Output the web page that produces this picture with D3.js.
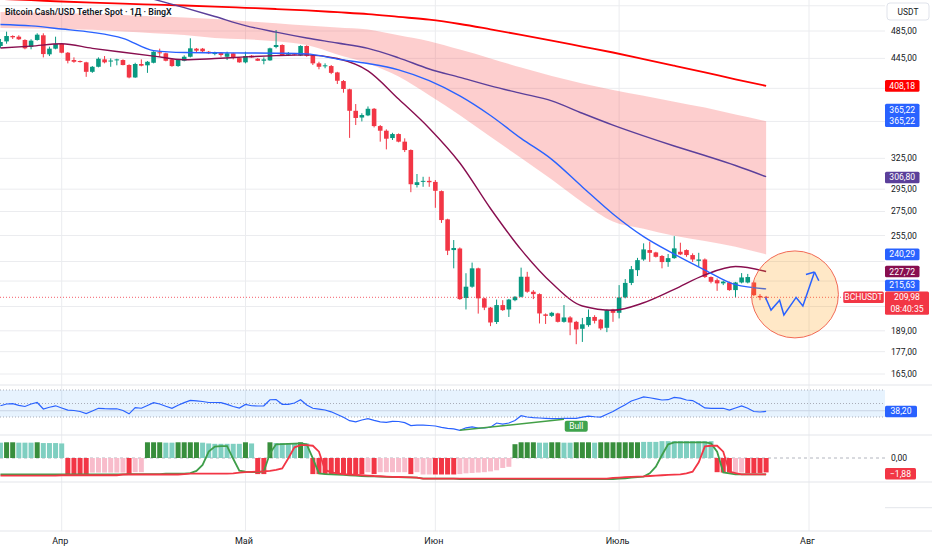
<!DOCTYPE html>
<html>
<head>
<meta charset="utf-8">
<script src="https://cdn.jsdelivr.net/npm/d3@7"></script>
<style>
    html, body { margin: 0; padding: 0; background: #fff; }
    svg { display: block; font-family: Roboto, 'Noto Sans', sans-serif; }
</style>
</head>
<body>
<div id="chart"></div>
<script>
// Daily candles, first one on 22 March
const firstDay = Date.UTC(2025, 2, 22)
const monthStarts = ['2025-04-01', '2025-05-01', '2025-06-01', '2025-07-01', '2025-08-01']
const monthLabels = ['Апр', 'Май', 'Июн', 'Июль', 'Авг']
const priceTicks = [525, 485, 445, 405, 365, 325, 295, 275, 255, 235, 221, 204, 189, 177, 165]

const opens = [
    462.7, 469.4, 477.4, 476.4, 471.5, 461.2, 471.5, 478.5, 450.7, 458.8,
    465.6, 453.0, 442.7, 441.3, 439.5, 426.6, 433.4, 443.6, 441.3, 442.7,
    442.7, 435.8, 419.1, 437.2, 435.4, 438.9, 453.6, 452.2, 443.6, 434.4,
    441.7, 447.3, 458.8, 458.8, 454.4, 451.1, 453.0, 447.3, 452.2, 445.4,
    439.5, 448.8, 444.5, 441.7, 442.2, 461.2, 464.1, 450.2, 452.2, 449.0,
    462.7, 448.8, 438.1, 434.4, 434.4, 425.8, 414.4, 403.8, 377.4, 369.5,
    372.0, 379.8, 359.7, 354.5, 346.4, 350.8, 342.5, 333.6, 298.9, 302.2,
    302.8, 301.8, 293.2, 268.3, 243.6, 244.8, 209.5, 217.1, 230.0, 209.3,
    203.3, 194.3, 204.9, 202.1, 208.1, 210.3, 224.0, 213.7, 212.1, 199.0,
    198.1, 199.6, 194.4, 197.1, 194.4, 190.2, 192.4, 197.4, 195.8, 190.8,
    202.1, 200.0, 209.9, 219.7, 228.7, 236.5, 243.6, 241.8, 239.1, 234.6,
    237.5, 242.3, 243.6, 239.8, 235.5, 236.5, 223.8, 221.6, 219.4, 220.0,
    214.8, 220.0, 220.0, 220.0, 210.9, 210.3
]
const highs = [
    473.0, 484.0, 478.5, 478.5, 472.5, 472.5, 481.5, 481.5, 461.7, 476.4,
    466.6, 454.0, 446.4, 442.0, 440.3, 434.4, 446.4, 448.3, 445.0, 444.5,
    443.6, 436.8, 438.9, 443.6, 441.3, 455.0, 458.8, 453.0, 444.5, 443.6,
    449.3, 474.0, 459.8, 459.8, 455.5, 454.4, 454.0, 454.4, 453.0, 446.4,
    454.4, 449.7, 445.4, 446.4, 460.2, 486.5, 465.1, 454.0, 452.6, 463.7,
    463.7, 449.3, 440.3, 438.1, 435.8, 426.6, 415.7, 404.5, 385.5, 374.5,
    382.6, 380.7, 360.9, 356.0, 352.2, 351.5, 346.1, 334.3, 309.4, 306.7,
    306.7, 303.6, 293.8, 268.8, 251.4, 245.6, 226.5, 234.2, 230.5, 209.7,
    203.7, 208.5, 208.1, 208.9, 210.8, 230.5, 227.5, 214.8, 212.6, 199.6,
    200.6, 200.0, 204.9, 197.9, 195.0, 196.8, 202.1, 198.5, 196.2, 202.1,
    202.5, 218.2, 222.4, 231.7, 237.7, 248.8, 250.1, 242.3, 239.8, 240.6,
    254.5, 249.3, 244.1, 241.1, 241.5, 237.3, 224.2, 222.8, 221.3, 220.6,
    220.4, 226.6, 226.0, 220.6, 212.1, 210.9
]
const lows = [
    459.8, 466.0, 473.0, 471.5, 457.9, 457.9, 470.5, 446.4, 448.3, 457.9,
    452.2, 438.1, 438.9, 439.2, 419.9, 425.2, 432.6, 438.1, 433.4, 435.4,
    435.4, 418.0, 418.6, 434.0, 425.2, 438.1, 447.3, 440.9, 433.4, 433.4,
    440.9, 446.4, 454.0, 454.0, 451.1, 449.3, 447.3, 442.7, 443.6, 438.9,
    438.1, 445.9, 441.3, 436.8, 441.7, 459.3, 448.3, 448.3, 449.3, 448.3,
    447.3, 435.8, 430.0, 431.4, 423.5, 410.6, 399.5, 346.6, 360.9, 365.0,
    371.1, 358.2, 342.5, 334.3, 344.3, 341.8, 331.5, 292.2, 296.6, 297.2,
    297.2, 278.2, 265.3, 239.8, 230.0, 208.3, 202.1, 216.4, 199.5, 201.7,
    191.8, 193.1, 201.2, 197.4, 207.4, 209.9, 213.0, 208.8, 193.4, 193.1,
    197.4, 194.0, 193.9, 186.4, 181.2, 182.5, 191.4, 193.4, 189.4, 188.2,
    194.4, 196.5, 209.3, 218.2, 224.5, 235.5, 234.7, 238.0, 230.0, 231.1,
    237.0, 239.8, 238.5, 234.7, 231.1, 223.1, 219.4, 214.3, 218.2, 214.3,
    210.0, 219.4, 219.4, 210.8, 208.1, 208.1
]
const closes = [
    468.5, 477.4, 475.5, 472.5, 459.3, 470.5, 479.4, 451.1, 458.8, 465.6,
    453.0, 441.7, 440.3, 439.9, 426.6, 433.4, 444.5, 439.5, 442.0, 443.6,
    435.8, 419.1, 437.2, 434.9, 440.3, 454.4, 452.2, 441.7, 434.4, 442.7,
    447.3, 459.3, 455.9, 455.0, 452.2, 453.6, 449.7, 452.2, 446.4, 439.5,
    448.3, 446.4, 441.7, 443.6, 459.3, 464.1, 449.3, 452.2, 450.2, 462.7,
    448.5, 438.1, 433.4, 435.4, 425.2, 414.8, 404.2, 377.4, 369.0, 372.4,
    379.8, 359.7, 354.5, 345.7, 350.8, 342.5, 333.6, 299.6, 301.5, 302.8,
    301.5, 293.5, 267.7, 243.1, 245.2, 208.8, 217.1, 230.0, 209.3, 203.3,
    194.0, 204.9, 201.7, 208.5, 210.3, 224.0, 213.7, 212.1, 199.6, 198.1,
    200.0, 194.4, 197.1, 194.0, 189.8, 192.9, 197.4, 195.0, 190.4, 201.7,
    200.0, 209.9, 219.7, 229.4, 236.0, 244.1, 241.5, 238.5, 234.6, 237.5,
    244.9, 240.3, 239.8, 236.5, 236.5, 223.8, 220.5, 219.4, 220.6, 214.8,
    220.0, 223.5, 223.8, 211.4, 209.9, 209.98
]

// Moving averages and the band, read every 5th candle
const maDays = [0, 5, 10, 15, 20, 25, 30, 35, 40, 45, 50, 55, 60, 65, 70, 75, 80, 85, 90, 95, 100, 105, 110, 115, 120, 125]
const redMa = [536.4, 534.3, 532.1, 530.2, 528.5, 527.0, 525.5, 523.7, 521.7, 519.7, 517.4, 514.5, 511.5, 507.0, 502.5, 495.8, 487.6, 479.2, 470.7, 461.9, 453.3, 444.1, 434.9, 425.8, 416.7, 408.18]
const purpleMa = [614.0, 596.9, 582.0, 565.8, 550.9, 536.0, 522.0, 507.6, 493.3, 483.2, 474.4, 467.0, 459.2, 445.8, 430.4, 419.2, 408.2, 398.7, 389.4, 374.5, 360.8, 348.8, 337.9, 327.9, 317.8, 306.80]
const bandUpper = [514.9, 513.9, 512.9, 512.0, 510.2, 508.1, 506.2, 503.7, 500.2, 496.9, 493.4, 490.5, 487.4, 478.5, 469.8, 457.5, 445.0, 432.3, 421.1, 411.3, 403.0, 395.7, 388.4, 381.2, 372.9, 365.22]
const bandLower = [489.6, 488.7, 487.8, 486.8, 484.4, 481.7, 478.9, 474.6, 472.7, 469.5, 464.0, 450.6, 438.0, 420.3, 396.3, 372.1, 347.7, 325.3, 304.1, 283.2, 266.5, 260.5, 254.8, 250.6, 246.2, 240.29]
const blueMa = [495.0, 492.8, 488.1, 482.9, 474.0, 456.0, 453.2, 452.9, 452.6, 452.3, 451.4, 444.0, 437.9, 429.3, 414.9, 395.5, 371.9, 346.1, 324.0, 297.1, 272.9, 254.1, 240.5, 228.8, 218.5, 215.63]
const maroonMa = [459.8, 462.5, 465.9, 459.3, 453.6, 448.2, 443.1, 444.8, 447.1, 448.9, 449.9, 444.8, 427.9, 391.6, 357.3, 320.3, 277.6, 243.9, 219.6, 204.3, 201.6, 206.4, 215.3, 225.3, 231.3, 227.72]

// RSI, one value per candle
const rsi = [
    46.7, 49.3, 49.9, 47.3, 45.6, 49.3, 51.5, 41.9, 44.4, 46.6,
    43.3, 40.2, 39.6, 38.1, 35.0, 38.9, 42.9, 42.3, 41.9, 42.2,
    39.6, 34.7, 43.8, 43.0, 47.0, 51.2, 49.3, 45.9, 42.9, 47.5,
    51.3, 54.7, 54.0, 53.0, 51.5, 51.5, 51.3, 48.8, 45.6, 43.3,
    48.7, 46.7, 46.3, 46.6, 55.6, 55.9, 48.8, 48.8, 50.7, 55.5,
    47.8, 42.9, 41.6, 40.4, 37.7, 33.7, 29.7, 24.5, 22.9, 25.6,
    27.5, 25.0, 22.9, 22.1, 23.6, 23.3, 21.7, 17.3, 17.9, 17.9,
    17.4, 16.7, 14.7, 13.1, 12.5, 10.3, 14.0, 15.3, 13.7, 13.7,
    14.9, 21.1, 19.6, 21.1, 24.8, 31.9, 30.0, 29.1, 28.5, 27.9,
    27.5, 27.6, 28.1, 28.1, 28.1, 29.7, 31.3, 30.4, 29.9, 34.0,
    38.1, 43.3, 48.2, 53.7, 56.7, 59.9, 58.5, 56.8, 55.2, 55.6,
    59.0, 57.9, 55.2, 54.4, 49.3, 43.5, 42.9, 42.9, 42.9, 40.1,
    43.3, 46.3, 42.9, 38.1, 37.4, 38.2
]
const rsiLevels = [70, 50, 30]
const rsiBase = 39.3
const rsiDivergence = [[75, 10.3], [92, 26.6]]
const bullLabelDay = 94

// Momentum histogram and its two lines
const histValues = [
    2.0, 2.05, 2.05, 2.0, 2.0, 2.0, 2.05, 1.95, 1.95, 1.95,
    1.9, -2.1, -2.1, -2.1, -2.1, -1.9, -1.9, -1.9, -1.9, -1.9,
    -1.9, -2.1, -1.85, -1.85, 2.05, 2.05, 2.05, 2.0, 2.0, 2.05,
    2.05, 2.05, 2.05, 2.0, 1.9, 1.85, 1.85, 1.85, 1.85, 1.85,
    2.05, 1.9, -2.1, -2.1, 2.05, 1.95, 1.95, 1.95, 1.95, 2.05,
    1.9, -2.1, -2.1, -2.1, -2.1, -2.1, -2.1, -2.1, -2.1, -2.1,
    -1.85, -2.1, -1.85, -1.85, -1.85, -1.85, -1.85, -2.1, -1.85, -2.15,
    -2.15, -2.15, -2.15, -2.15, -2.15, -2.1, -2.0, -1.95, -1.9, -1.85,
    -1.75, -1.6, -1.3, -1.15, 1.8, 2.05, 2.05, 2.05, 2.0, 2.0,
    2.05, 2.05, 2.0, 2.0, 2.05, 2.05, 2.05, 2.0, 2.05, 2.05,
    2.05, 2.05, 2.05, 2.05, 2.05, 2.1, 2.1, 2.1, 2.2, 2.2,
    2.2, 2.2, 2.2, 2.2, 2.2, 2.2, 2.2, -1.85, -1.9, -1.9,
    -1.9, -1.9, -2.0, -2.0, -1.95, -1.88
]
const histStrong = [
    0, 1, 1, 0, 0, 0, 1, 0, 0, 0,
    0, 1, 1, 1, 1, 0, 0, 0, 0, 0,
    0, 1, 0, 0, 1, 1, 1, 0, 0, 1,
    1, 1, 1, 0, 0, 0, 0, 0, 0, 0,
    1, 0, 1, 1, 1, 0, 0, 0, 0, 1,
    0, 1, 1, 1, 1, 1, 1, 1, 1, 1,
    0, 1, 0, 0, 0, 0, 0, 1, 0, 0,
    0, 1, 1, 1, 1, 0, 0, 0, 0, 0,
    0, 0, 0, 0, 1, 1, 1, 1, 0, 0,
    1, 1, 0, 0, 1, 1, 1, 0, 1, 1,
    1, 1, 1, 1, 1, 0, 0, 0, 0, 0,
    0, 0, 0, 0, 0, 0, 0, 1, 1, 1,
    0, 0, 1, 1, 1, 1
]
const greenLine = [
    -2.13, -2.13, -2.13, -2.13, -2.13, -2.13, -2.13, -2.13, -2.13, -2.13,
    -2.13, -2.13, -2.13, -2.13, -2.13, -2.13, -2.13, -2.13, -2.13, -2.13,
    -2.13, -2.1, -2.1, -2.1, -2.1, -2.1, -2.1, -2.05, -2.05, -2.05,
    -2.05, -1.96, -1.69, -0.91, 0.83, 1.48, 1.56, 1.56, -0.1, -1.65,
    -1.78, -1.83, -1.83, -1.75, 0.61, 1.78, 1.8, 1.83, 1.87, 1.91,
    1.78, -0.04, -2.0, -2.1, -2.13, -2.15, -2.2, -2.25, -2.3, -2.35,
    -2.38, -2.4, -2.43, -2.46, -2.48, -2.5, -2.52, -2.54, -2.56, -2.7,
    -2.7, -2.7, -2.7, -2.7, -2.7, -2.74, -2.74, -2.74, -2.74, -2.74,
    -2.74, -2.74, -2.74, -2.74, -2.74, -2.74, -2.74, -2.74, -2.74, -2.74,
    -2.74, -2.74, -2.74, -2.74, -2.74, -2.74, -2.74, -2.74, -2.74, -2.74,
    -2.74, -2.7, -2.65, -2.56, -2.5, -2.43, -2.0, -1.13, 0.39, 1.78,
    2.05, 2.05, 2.05, 2.05, 2.05, 2.05, 1.91, 0.83, -1.87, -2.0,
    -2.13, -2.13, -2.13, -2.13, -2.13, -2.13
]
const redLine = [
    -2.3, -2.3, -2.3, -2.3, -2.3, -2.3, -2.3, -2.3, -2.3, -2.3,
    -2.25, -2.25, -2.25, -2.25, -2.25, -2.25, -2.25, -2.25, -2.25, -2.25,
    -2.15, -2.15, -2.15, -2.15, -2.15, -2.15, -2.15, -2.15, -2.15, -2.15,
    -2.1, -2.05, -2.05, -2.05, -2.05, -2.05, -2.05, -2.05, -2.0, -1.9,
    -1.85, -1.8, -1.78, -1.75, -1.69, -1.56, -1.35, -0.04, 1.39, 1.69,
    1.69, 1.6, 0.83, -1.56, -1.87, -2.0, -2.1, -2.15, -2.2, -2.25,
    -2.3, -2.35, -2.38, -2.42, -2.45, -2.48, -2.5, -2.53, -2.56, -2.68,
    -2.7, -2.7, -2.7, -2.7, -2.7, -2.7, -2.7, -2.7, -2.7, -2.7,
    -2.7, -2.7, -2.7, -2.7, -2.7, -2.7, -2.7, -2.7, -2.7, -2.7,
    -2.7, -2.7, -2.7, -2.7, -2.7, -2.7, -2.7, -2.7, -2.7, -2.7,
    -2.6, -2.55, -2.5, -2.47, -2.43, -2.4, -2.35, -2.3, -2.25, -2.2,
    -2.17, -2.13, -2.0, -1.78, -0.56, 1.52, 1.6, 1.6, 0.83, -1.78,
    -1.96, -2.13, -2.13, -2.13, -2.13, -2.13
]

// Hand-drawn forecast: [day, price]
const forecastPath = [[124.9, 209.9], [125.8, 201.7], [127.2, 208.1], [127.9, 198.6], [129.9, 209.9], [131.0, 204.3], [132.9, 227.4]]
const arrowWings = [[131.5, 225.6], [133.6, 221.2]]
const circleCenter = [129.7, 211.9]
const circleRadiusDays = 7.1

// ---- layout ----
const width = 932, height = 550
const plotRight = 885
const mainBottom = 385, rsiBottom = 435, histBottom = 482, axisTop = 531

const svg = d3.select('#chart').append('svg')
    .attr('width', width).attr('height', height)

const x = d3.scaleUtc()
    .domain([new Date(Date.UTC(2025, 3, 1)), new Date(Date.UTC(2025, 7, 1))])
    .range([61.7, 809])
const dayX = i => x(new Date(firstDay + i * 864e5))
const y = d3.scaleLog().domain([165, 485]).range([374, 31])
const yRsi = d3.scaleLinear().domain([30, 70]).range([417, 390])
const yHist = d3.scaleLinear().domain([-3, 3]).range([481, 435])
const fmt = v => d3.format('.2f')(v).replace('.', ',')
const parseDay = d3.utcParse('%Y-%m-%d')
const last = a => a[a.length - 1]
const lastClose = last(closes)
const up = '#089981', down = '#f23645'

const defs = svg.append('defs')
function clip(id, y0, y1) {
    defs.append('clipPath').attr('id', id)
        .append('rect').attr('x', 0).attr('y', y0).attr('width', plotRight).attr('height', y1 - y0)
}
clip('clip-main', 0, mainBottom)
clip('clip-rsi', mainBottom, rsiBottom)
clip('clip-hist', rsiBottom, histBottom)

const grid = '#ebecef'

// Grid lines
svg.selectAll('.hgrid')
    .data(priceTicks).enter()
    .append('line')
    .attr('x1', 0).attr('x2', plotRight)
    .attr('y1', d => y(d)).attr('y2', d => y(d))
    .attr('stroke', grid)

svg.selectAll('.vgrid')
    .data(monthStarts).enter()
    .append('line')
    .attr('x1', d => x(parseDay(d))).attr('x2', d => x(parseDay(d)))
    .attr('y1', 0).attr('y2', axisTop)
    .attr('stroke', grid)

// Pane separators
;[mainBottom, rsiBottom, histBottom, axisTop].forEach(s => {
    svg.append('line').attr('x1', 0).attr('x2', width).attr('y1', s).attr('y2', s).attr('stroke', '#e3e5ea')
})
svg.append('line').attr('x1', plotRight).attr('x2', width).attr('y1', 507.7).attr('y2', 507.7).attr('stroke', '#e3e5ea')

// Main pane
const main = svg.append('g').attr('clip-path', 'url(#clip-main)')
const maPts = arr => arr.map((v, k) => ({ d: maDays[k], v }))

const band = d3.area()
    .x(d => dayX(d.d))
    .y0(d => y(d.lo)).y1(d => y(d.hi))
    .curve(d3.curveMonotoneX)
main.append('path')
    .datum(maDays.map((d, k) => ({ d, lo: bandLower[k], hi: bandUpper[k] })))
    .attr('d', band)
    .attr('fill', 'rgba(248, 80, 80, 0.28)')

// Candles
const bodyW = 4.6
const candles = closes.map((c, i) => ({ i, o: opens[i], h: highs[i], l: lows[i], c }))
main.selectAll('.wick')
    .data(candles).enter()
    .append('line')
    .attr('x1', d => dayX(d.i)).attr('x2', d => dayX(d.i))
    .attr('y1', d => y(d.h)).attr('y2', d => y(d.l))
    .attr('stroke', d => d.c >= d.o ? up : down)
    .attr('stroke-width', 1)
main.selectAll('.body')
    .data(candles).enter()
    .append('rect')
    .attr('x', d => dayX(d.i) - bodyW / 2)
    .attr('y', d => y(Math.max(d.o, d.c)))
    .attr('width', bodyW)
    .attr('height', d => Math.max(1, Math.abs(y(d.o) - y(d.c))))
    .attr('fill', d => d.c >= d.o ? up : down)

// Moving averages
const maLine = d3.line().x(d => dayX(d.d)).y(d => y(d.v)).curve(d3.curveMonotoneX)
const lines = [
    { data: redMa, color: '#ff0000', w: 1.8 },
    { data: purpleMa, color: '#5b3f9a', w: 1.4 },
    { data: maroonMa, color: '#880e4f', w: 1.4 },
    { data: blueMa, color: '#2962ff', w: 1.4 }
]
lines.forEach(l => {
    main.append('path')
        .datum(maPts(l.data))
        .attr('d', maLine)
        .attr('fill', 'none')
        .attr('stroke', l.color)
        .attr('stroke-width', l.w)
})

// Last price line
main.append('line')
    .attr('x1', 0).attr('x2', plotRight)
    .attr('y1', y(lastClose)).attr('y2', y(lastClose))
    .attr('stroke', down).attr('stroke-dasharray', '1,2').attr('opacity', 0.8)

// Forecast drawing
const cx = dayX(circleCenter[0]), cy = y(circleCenter[1])
main.append('circle')
    .attr('cx', cx).attr('cy', cy)
    .attr('r', dayX(circleCenter[0] + circleRadiusDays) - cx)
    .attr('fill', 'rgba(255, 152, 0, 0.22)')
    .attr('stroke', '#f26a55').attr('stroke-width', 1)
const fLine = d3.line().x(d => dayX(d[0])).y(d => y(d[1]))
main.append('path')
    .datum(forecastPath)
    .attr('d', fLine)
    .attr('fill', 'none').attr('stroke', '#2962ff').attr('stroke-width', 1.5)
const tip = last(forecastPath)
arrowWings.forEach(w => {
    main.append('path')
        .datum([w, tip])
        .attr('d', fLine)
        .attr('fill', 'none').attr('stroke', '#2962ff').attr('stroke-width', 1.5)
})

// Title
svg.append('text')
    .attr('x', 5).attr('y', 14.5)
    .attr('fill', '#131722').attr('font-size', '8.8px').attr('font-weight', 600)
    .text('Bitcoin Cash/USD Tether Spot · 1Д · BingX')

// RSI pane
const rsiG = svg.append('g').attr('clip-path', 'url(#clip-rsi)')
rsiG.append('rect')
    .attr('x', 0).attr('width', plotRight)
    .attr('y', yRsi(70)).attr('height', yRsi(30) - yRsi(70))
    .attr('fill', 'rgba(33, 150, 243, 0.11)')
rsiG.selectAll('.lvl')
    .data(rsiLevels).enter()
    .append('line')
    .attr('x1', 0).attr('x2', plotRight)
    .attr('y1', d => yRsi(d)).attr('y2', d => yRsi(d))
    .attr('stroke', '#a9adb8').attr('stroke-dasharray', '1,2')
rsiG.append('line')
    .attr('x1', 0).attr('x2', plotRight)
    .attr('y1', yRsi(rsiBase)).attr('y2', yRsi(rsiBase))
    .attr('stroke', '#c9d4e4')
rsiG.append('path')
    .datum(rsi)
    .attr('d', d3.line().x((d, i) => dayX(i)).y(d => yRsi(d)))
    .attr('fill', 'none').attr('stroke', '#2962ff').attr('stroke-width', 1.2)
rsiG.append('path')
    .datum(rsiDivergence)
    .attr('d', d3.line().x(d => dayX(d[0])).y(d => yRsi(d[1])))
    .attr('fill', 'none').attr('stroke', '#43a047').attr('stroke-width', 1.4)
const bullX = dayX(bullLabelDay), bullY = yRsi(rsiDivergence[1][1]) + 1.4
svg.append('rect')
    .attr('x', bullX - 11.5).attr('y', bullY)
    .attr('width', 23).attr('height', 11).attr('rx', 2)
    .attr('fill', '#3fa34d')
svg.append('text')
    .attr('x', bullX).attr('y', bullY + 5.7)
    .attr('text-anchor', 'middle').attr('dominant-baseline', 'central')
    .attr('fill', '#fff').attr('font-size', '8.4px')
    .text('Bull')

// Histogram pane
const histG = svg.append('g').attr('clip-path', 'url(#clip-hist)')
histG.append('line')
    .attr('x1', 0).attr('x2', plotRight)
    .attr('y1', yHist(0)).attr('y2', yHist(0))
    .attr('stroke', '#b2b5be').attr('stroke-dasharray', '3,3')
const barW = 5
histG.selectAll('.bar')
    .data(histValues).enter()
    .append('rect')
    .attr('x', (d, i) => dayX(i) - barW / 2)
    .attr('width', barW)
    .attr('y', d => d >= 0 ? yHist(d) : yHist(0))
    .attr('height', d => Math.abs(yHist(d) - yHist(0)))
    .attr('fill', (d, i) => d >= 0
        ? (histStrong[i] ? '#388e3c' : '#7fcfc1')
        : (histStrong[i] ? '#f23645' : '#f8bccb'))
const hLine = d3.line().x((d, i) => dayX(i)).y(d => yHist(d))
histG.append('path').datum(greenLine).attr('d', hLine)
    .attr('fill', 'none').attr('stroke', '#3f9e4a').attr('stroke-width', 1.8)
histG.append('path').datum(redLine).attr('d', hLine)
    .attr('fill', 'none').attr('stroke', '#f23645').attr('stroke-width', 1.8)

// Last-value badges on the price axis
const rowH = 11.6
const badges = [
    { yc: y(last(redMa)), rows: [fmt(last(redMa))], fill: '#ff0000', x0: 885, w: 34.5 },
    { yc: y(last(bandUpper)) - rowH, rows: [fmt(last(bandUpper)), fmt(last(bandUpper))], fill: '#2962ff', x0: 885, w: 34.5 },
    { yc: y(last(purpleMa)) + 0.8, rows: [fmt(last(purpleMa))], fill: '#5b3f9a', x0: 885, w: 34.5 },
    { yc: y(last(bandLower)), rows: [fmt(last(bandLower))], fill: '#2962ff', x0: 885, w: 34.5 },
    { yc: y(last(maroonMa)), rows: [fmt(last(maroonMa))], fill: '#880e4f', x0: 885, w: 34.5 },
    { yc: y(last(blueMa)) - 3.4, rows: [fmt(last(blueMa))], fill: '#2962ff', x0: 885, w: 34.5 },
    { yc: y(lastClose), rows: [fmt(lastClose), '08:40:35'], fill: down, x0: 885, w: 44 },
    { yc: y(lastClose), rows: ['BCHUSDT'], fill: down, x0: 843.3, w: 40.5 },
    { yc: yRsi(last(rsi)), rows: [fmt(last(rsi))], fill: '#2962ff', x0: 885, w: 32 },
    { yc: yHist(last(histValues)) + 1.4, rows: [fmt(last(histValues))], fill: down, x0: 885, w: 31 }
]
const covered = ty => ty < 21 || badges.some(b => b.x0 >= plotRight
    && ty > b.yc - rowH / 2 - 5 && ty < b.yc - rowH / 2 + rowH * b.rows.length + 5)

// Price axis
svg.selectAll('.ptick')
    .data(priceTicks.filter(t => !covered(y(t)))).enter()
    .append('text')
    .attr('x', 891).attr('y', d => y(d))
    .attr('dominant-baseline', 'central')
    .attr('fill', '#131722').attr('font-size', '8.6px')
    .text(d => fmt(d))
svg.append('text')
    .attr('x', 891).attr('y', yHist(0))
    .attr('dominant-baseline', 'central')
    .attr('fill', '#131722').attr('font-size', '8.6px')
    .text(fmt(0))

svg.append('rect')
    .attr('x', 887).attr('y', 3).attr('width', 42).attr('height', 17).attr('rx', 3)
    .attr('fill', '#fff').attr('stroke', '#e0e3eb')
svg.append('text')
    .attr('x', 908).attr('y', 11.5)
    .attr('text-anchor', 'middle').attr('dominant-baseline', 'central')
    .attr('fill', '#131722').attr('font-size', '8.4px')
    .text('USDT')

badges.forEach(b => {
    svg.append('rect')
        .attr('x', b.x0).attr('y', b.yc - rowH / 2)
        .attr('width', b.w).attr('height', rowH * b.rows.length).attr('rx', 1.5)
        .attr('fill', b.fill)
    b.rows.forEach((t, k) => {
        svg.append('text')
            .attr('x', b.x0 + b.w / 2).attr('y', b.yc + k * rowH)
            .attr('text-anchor', 'middle').attr('dominant-baseline', 'central')
            .attr('fill', '#fff').attr('font-size', '8.6px')
            .text(t)
    })
})

// Time axis
svg.selectAll('.month')
    .data(monthStarts).enter()
    .append('text')
    .attr('x', d => x(parseDay(d)) - 1.5)
    .attr('y', 540.5)
    .attr('text-anchor', 'middle').attr('dominant-baseline', 'central')
    .attr('fill', '#131722').attr('font-size', '9px')
    .text((d, i) => monthLabels[i])
</script>
</body>
</html>
